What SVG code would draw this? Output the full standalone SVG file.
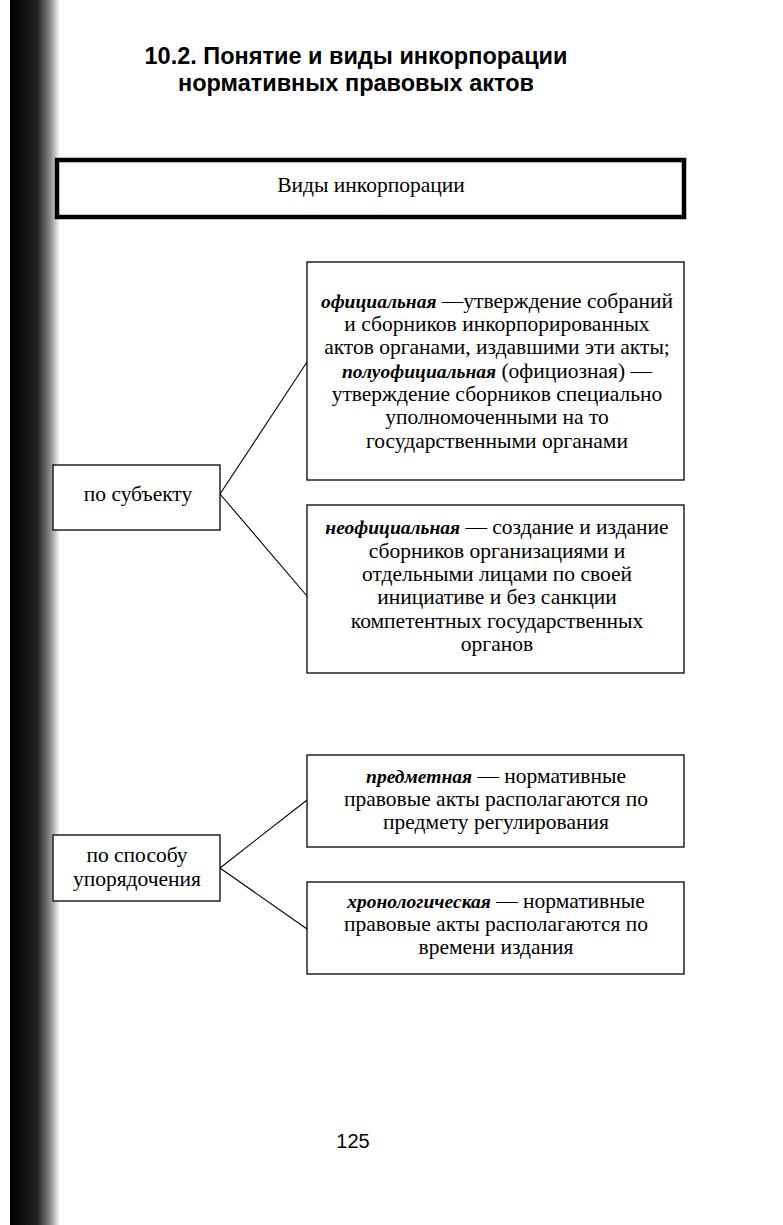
<svg xmlns="http://www.w3.org/2000/svg" width="783" height="1225" viewBox="0 0 783 1225">
<defs>
<linearGradient id="spine" x1="0" y1="0" x2="1" y2="0">
<stop offset="0" stop-color="#000"/>
<stop offset="0.55" stop-color="#222"/>
<stop offset="0.8" stop-color="#888"/>
<stop offset="1" stop-color="#fff"/>
</linearGradient>
<style>
.box{fill:#fff;stroke:#000;stroke-width:1.3}
.thick{fill:#fff;stroke:#000;stroke-width:4.5}
.t{font-family:"Liberation Serif","Times New Roman",serif;font-size:21.5px;fill:#000;text-anchor:middle}
.bi{font-weight:bold;font-style:italic;font-size:19.5px}
.h{font-family:"Liberation Sans",Arial,sans-serif;font-weight:bold;font-size:23.5px;fill:#000;text-anchor:middle}
.c{stroke:#000;stroke-width:1.1;fill:none}
</style>
</defs>
<rect width="783" height="1225" fill="#fff"/>
<rect x="10" y="0" width="50" height="1225" fill="url(#spine)"/>
<line x1="12" y1="0" x2="12" y2="1225" stroke="#000" stroke-width="2"/>

<g id="title">
<text class="h" x="356" y="64">10.2. Понятие и виды инкорпорации</text>
<text class="h" x="356" y="91">нормативных правовых актов</text>
</g>

<g id="connectors">
<line class="c" x1="220" y1="494" x2="307" y2="362"/>
<line class="c" x1="220" y1="494" x2="307" y2="596"/>
<line class="c" x1="220" y1="868" x2="307" y2="800"/>
<line class="c" x1="220" y1="868" x2="307" y2="929"/>
</g>

<g id="root">
<rect class="thick" x="57" y="160" width="627" height="57"/>
<text class="t" x="371" y="192">Виды инкорпорации</text>
</g>

<g id="po-subektu">
<rect class="box" x="53" y="465" width="167" height="65"/>
<text class="t" x="138" y="501">по субъекту</text>
</g>

<g id="oficialnaya">
<rect class="box" x="307" y="262" width="377" height="218"/>
<text class="t" x="497" y="308"><tspan class="bi">официальная</tspan> —утверждение собраний</text>
<text class="t" x="497" y="331">и сборников инкорпорированных</text>
<text class="t" x="497" y="354">актов органами, издавшими эти акты;</text>
<text class="t" x="497" y="378"><tspan class="bi">полуофициальная</tspan> (официозная) —</text>
<text class="t" x="497" y="401">утверждение сборников специально</text>
<text class="t" x="497" y="424">уполномоченными на то</text>
<text class="t" x="497" y="448">государственными органами</text>
</g>

<g id="neoficialnaya">
<rect class="box" x="307" y="505" width="377" height="168"/>
<text class="t" x="497" y="534"><tspan class="bi">неофициальная</tspan> — создание и издание</text>
<text class="t" x="497" y="558">сборников организациями и</text>
<text class="t" x="497" y="581">отдельными лицами по своей</text>
<text class="t" x="497" y="604">инициативе и без санкции</text>
<text class="t" x="497" y="628">компетентных государственных</text>
<text class="t" x="497" y="651">органов</text>
</g>

<g id="po-sposobu">
<rect class="box" x="53" y="835" width="167" height="66"/>
<text class="t" x="137" y="862">по способу</text>
<text class="t" x="137" y="886">упорядочения</text>
</g>

<g id="predmetnaya">
<rect class="box" x="307" y="755" width="377" height="92"/>
<text class="t" x="496" y="783"><tspan class="bi">предметная</tspan> — нормативные</text>
<text class="t" x="496" y="806">правовые акты располагаются по</text>
<text class="t" x="496" y="829">предмету регулирования</text>
</g>

<g id="hronologicheskaya">
<rect class="box" x="307" y="882" width="377" height="92"/>
<text class="t" x="496" y="908"><tspan class="bi">хронологическая</tspan> — нормативные</text>
<text class="t" x="496" y="931">правовые акты располагаются по</text>
<text class="t" x="496" y="954">времени издания</text>
</g>

<g id="page-number">
<text class="h" x="353" y="1148" style="font-weight:normal;font-size:20px">125</text>
</g>
</svg>
